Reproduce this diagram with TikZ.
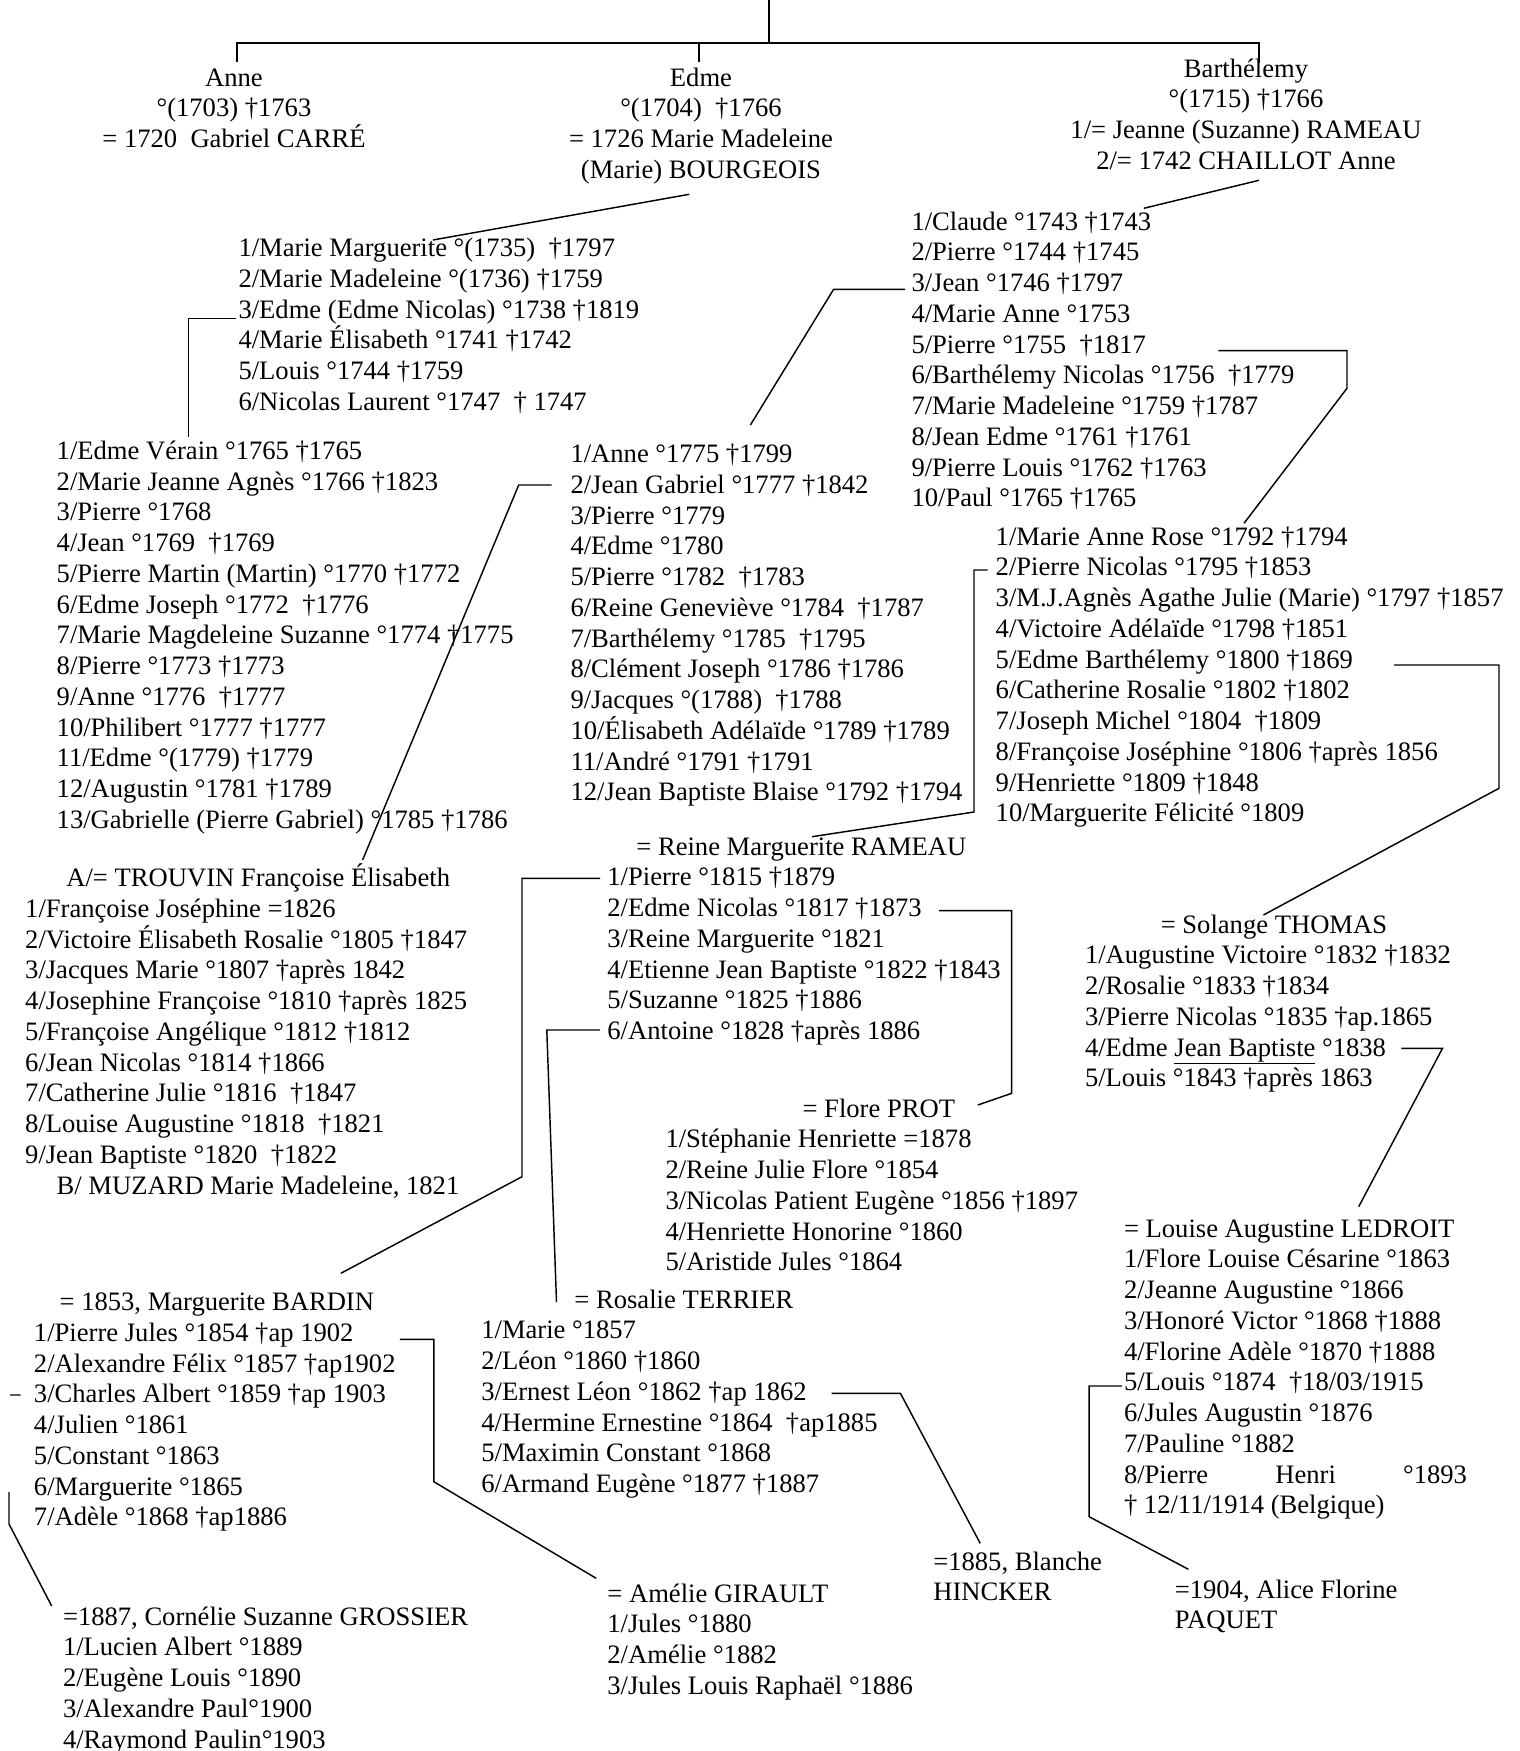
\documentclass[tikz,border=0pt]{standalone}
\usepackage{fontspec}
\setmainfont{Liberation Serif}
\newcommand\LftBlk[1]{\vtop{\halign{##\hfil\cr#1\crcr}}}
\newcommand\CtrBlk[1]{\vtop{\halign{\hfil##\hfil\cr#1\crcr}}}
\tikzset{
  txt/.style={inner sep=0pt, outer sep=0pt, font=\fontsize{26.6}{30.75}\selectfont, anchor=base west},
  ctxt/.style={txt, anchor=base},
  link/.style={line width=1.45pt, line join=miter},
  trunk/.style={line width=2pt}
}
\begin{document}
\begin{tikzpicture}[x=1pt,y=-1pt]
\useasboundingbox (0,0) rectangle (1519,1751);
\fill[white] (0,0) rectangle (1519,1751);

% ---------- text blocks ----------
\node[ctxt] (anne) at (234,86) {\CtrBlk{Anne\cr °(1703) †1763\cr = 1720~~Gabriel CARRÉ}};
\node[ctxt] (edme) at (701,86) {\CtrBlk{Edme\cr °(1704)~~†1766\cr = 1726 Marie Madeleine\cr (Marie) BOURGEOIS}};
\node[ctxt] (barth) at (1246,77) {\CtrBlk{Barthélemy\cr °(1715) †1766\cr 1/= Jeanne (Suzanne) RAMEAU\cr 2/= 1742 CHAILLOT Anne}};

\node[txt] (ek) at (238.5,256.7) {\LftBlk{1/Marie Marguerite °(1735)~~†1797\cr
2/Marie Madeleine °(1736) †1759\cr
3/Edme (Edme Nicolas) °1738 †1819\cr
4/Marie Élisabeth °1741 †1742\cr
5/Louis °1744 †1759\cr
6/Nicolas Laurent °1747~~† 1747}};

\node[txt] (bk) at (911.5,230) {\LftBlk{1/Claude °1743 †1743\cr
2/Pierre °1744 †1745\cr
3/Jean °1746 †1797\cr
4/Marie Anne °1753\cr
5/Pierre °1755~~†1817\cr
6/Barthélemy Nicolas °1756~~†1779\cr
7/Marie Madeleine °1759 †1787\cr
8/Jean Edme °1761 †1761\cr
9/Pierre Louis °1762 †1763\cr
10/Paul °1765 †1765}};

\node[txt] (enk) at (56.7,459.3) {\LftBlk{1/Edme Vérain °1765 †1765\cr
2/Marie Jeanne Agnès °1766 †1823\cr
3/Pierre °1768\cr
4/Jean °1769~~†1769\cr
5/Pierre Martin (Martin) °1770 †1772\cr
6/Edme Joseph °1772~~†1776\cr
7/Marie Magdeleine Suzanne °1774 †1775\cr
8/Pierre °1773 †1773\cr
9/Anne °1776~~†1777\cr
10/Philibert °1777 †1777\cr
11/Edme °(1779) †1779\cr
12/Augustin °1781 †1789\cr
13/Gabrielle (Pierre Gabriel) °1785 †1786}};

\node[txt] (jk) at (570.5,462.5) {\LftBlk{1/Anne °1775 †1799\cr
2/Jean Gabriel °1777 †1842\cr
3/Pierre °1779\cr
4/Edme °1780\cr
5/Pierre °1782~~†1783\cr
6/Reine Geneviève °1784~~†1787\cr
7/Barthélemy °1785~~†1795\cr
8/Clément Joseph °1786 †1786\cr
9/Jacques °(1788)~~†1788\cr
10/Élisabeth Adélaïde °1789 †1789\cr
11/André °1791 †1791\cr
12/Jean Baptiste Blaise °1792 †1794}};

\node[txt] (pk) at (995.7,545) {\LftBlk{1/Marie Anne Rose °1792 †1794\cr
2/Pierre Nicolas °1795 †1853\cr
3/M.J.Agnès Agathe Julie (Marie) °1797 †1857\cr
4/Victoire Adélaïde °1798 †1851\cr
5/Edme Barthélemy °1800 †1869\cr
6/Catherine Rosalie °1802 †1802\cr
7/Joseph Michel °1804~~†1809\cr
8/Françoise Joséphine °1806 †après 1856\cr
9/Henriette °1809 †1848\cr
10/Marguerite Félicité °1809}};

\node[txt] (tr) at (25.2,886.7) {\LftBlk{\hskip41.2pt A/= TROUVIN Françoise Élisabeth\cr
1/Françoise Joséphine =1826\cr
2/Victoire Élisabeth Rosalie °1805 †1847\cr
3/Jacques Marie °1807 †après 1842\cr
4/Josephine Françoise °1810 †après 1825\cr
5/Françoise Angélique °1812 †1812\cr
6/Jean Nicolas °1814 †1866\cr
7/Catherine Julie °1816~~†1847\cr
8/Louise Augustine °1818~~†1821\cr
9/Jean Baptiste °1820~~†1822\cr
\hskip31.5pt B/ MUZARD Marie Madeleine, 1821}};

\node[txt] (rm) at (607.4,855) {\LftBlk{\hskip29pt = Reine Marguerite RAMEAU\cr
1/Pierre °1815 †1879\cr
2/Edme Nicolas °1817 †1873\cr
3/Reine Marguerite °1821\cr
4/Etienne Jean Baptiste °1822 †1843\cr
5/Suzanne °1825 †1886\cr
6/Antoine °1828 †après 1886}};

\node[txt] (fp) at (665.5,1117) {\LftBlk{\hskip137.1pt = Flore PROT\cr
1/Stéphanie Henriette =1878\cr
2/Reine Julie Flore °1854\cr
3/Nicolas Patient Eugène °1856 †1897\cr
4/Henriette Honorine °1860\cr
5/Aristide Jules °1864}};

\node[txt] (st) at (1085,933) {\LftBlk{\hskip75.8pt = Solange THOMAS\cr
1/Augustine Victoire °1832 †1832\cr
2/Rosalie °1833 †1834\cr
3/Pierre Nicolas °1835 †ap.1865\cr
4/Edme \underline{Jean Baptiste} °1838\cr
5/Louis °1843 †après 1863}};

\node[txt] (ld) at (1124,1237) {\LftBlk{= Louise Augustine LEDROIT\cr
1/Flore Louise Césarine °1863\cr
2/Jeanne Augustine °1866\cr
3/Honoré Victor °1868 †1888\cr
4/Florine Adèle °1870 †1888\cr
5/Louis °1874~~†18/03/1915\cr
6/Jules Augustin °1876\cr
7/Pauline °1882\cr
\hbox to 343pt{8/Pierre\hfil Henri\hfil °1893}\cr
† 12/11/1914 (Belgique)}};

\node[txt] (rt) at (481.3,1308) {\LftBlk{\hskip93.1pt = Rosalie TERRIER\cr
1/Marie °1857\cr
2/Léon °1860 †1860\cr
3/Ernest Léon °1862 †ap 1862\cr
4/Hermine Ernestine °1864~~†ap1885\cr
5/Maximin Constant °1868\cr
6/Armand Eugène °1877 †1887}};

\node[txt] (bd) at (34,1310.5) {\LftBlk{\hskip25.6pt = 1853, Marguerite BARDIN\cr
1/Pierre Jules °1854 †ap 1902\cr
2/Alexandre Félix °1857 †ap1902\cr
3/Charles Albert °1859 †ap 1903\cr
4/Julien °1861\cr
5/Constant °1863\cr
6/Marguerite °1865\cr
7/Adèle °1868 †ap1886}};

\node[txt] (ga) at (607.4,1602) {\LftBlk{= Amélie GIRAULT\cr
1/Jules °1880\cr
2/Amélie °1882\cr
3/Jules Louis Raphaël °1886}};

\node[txt] (gr) at (63,1625) {\LftBlk{=1887, Cornélie Suzanne GROSSIER\cr
1/Lucien Albert °1889\cr
2/Eugène Louis °1890\cr
3/Alexandre Paul°1900\cr
4/Raymond Paulin°1903}};

\node[txt] (hk) at (933.3,1570) {\LftBlk{=1885, Blanche\cr HINCKER}};
\node[txt] (pq) at (1174.8,1598) {\LftBlk{=1904, Alice Florine\cr PAQUET}};

% ---------- connector points ----------
\coordinate (root) at (768.7,0);
\coordinate (rootj) at (768.7,43.3);
\coordinate (brL) at (236.5,43.3);
\coordinate (brR) at (1259,43.3);
\coordinate (brE) at (698.5,43.3);
\coordinate (anneT) at (236.5,62);
\coordinate (edmeT) at (698.5,62);
\coordinate (barthT) at (1259,63);

\coordinate (edmeB) at (689.3,194.3);   \coordinate (ekT) at (432.9,240);
\coordinate (barthB) at (1259,180.3);   \coordinate (bkT) at (1143.8,208.3);
\coordinate (ek3) at (236,318.3);       \coordinate (ek3c) at (188.6,318.3); \coordinate (enkT) at (188.6,437);
\coordinate (bk3) at (905,289.3);       \coordinate (bk3c) at (833.6,289.3); \coordinate (jkT) at (750.4,425);
\coordinate (bk5) at (1218.4,350.7);    \coordinate (bk5c) at (1347,350.7); \coordinate (bk5d) at (1347,388.3); \coordinate (pkT) at (1244,523.3);
\coordinate (jk2) at (551.6,485);       \coordinate (jk2c) at (518.7,485); \coordinate (trT) at (362.6,860);
\coordinate (pk2) at (987.5,570);       \coordinate (pk2c) at (974,570); \coordinate (pk2d) at (974,812); \coordinate (rmT) at (812,836.7);
\coordinate (pk5) at (1394,665);        \coordinate (pk5c) at (1499,665); \coordinate (pk5d) at (1499,788.3); \coordinate (stT) at (1263.4,915);
\coordinate (rm1) at (600,878.3);       \coordinate (rm1c) at (522,878.3); \coordinate (rm1d) at (522,1176.7); \coordinate (bdT) at (340.8,1273.3);
\coordinate (rm6) at (600,1030);        \coordinate (rm6c) at (546.8,1030); \coordinate (rtT) at (556.5,1302);
\coordinate (rm2) at (939,910.7);       \coordinate (rm2c) at (1011.7,910.7); \coordinate (rm2d) at (1011.7,1093.3); \coordinate (fpT) at (977.8,1105);
\coordinate (st4) at (1401.3,1048.3);   \coordinate (st4c) at (1442.5,1048.3); \coordinate (ldT) at (1358.7,1206.7);
\coordinate (ld5) at (1122,1386);       \coordinate (ld5c) at (1089.1,1386); \coordinate (ld5d) at (1089.1,1516.7); \coordinate (pqT) at (1188.4,1569.3);
\coordinate (rt3) at (831.6,1393.3);    \coordinate (rt3c) at (900.4,1393.3); \coordinate (hkT) at (980.2,1543.3);
\coordinate (bd1) at (399.9,1339.3);    \coordinate (bd1c) at (433.8,1339.3); \coordinate (bd1d) at (433.8,1481.7); \coordinate (gaT) at (596.2,1578.3);
\coordinate (bd3) at (20.5,1395);       \coordinate (bd3c) at (10,1395);
\coordinate (grA) at (9,1492);          \coordinate (grB) at (9,1524); \coordinate (grT) at (51.7,1606);

% ---------- connectors ----------
\draw[trunk] (root) -- (rootj);
\draw[trunk] (anneT) -- (brL) -- (brR) -- (barthT);
\draw[trunk] (brE) -- (edmeT);

\draw[link] (edmeB) -- (ekT);
\draw[link] (barthB) -- (bkT);
\draw[link] (ek3) -- (ek3c) -- (enkT);
\draw[link] (bk3) -- (bk3c) -- (jkT);
\draw[link] (bk5) -- (bk5c) -- (bk5d) -- (pkT);
\draw[link] (jk2) -- (jk2c) -- (trT);
\draw[link] (pk2) -- (pk2c) -- (pk2d) -- (rmT);
\draw[link] (pk5) -- (pk5c) -- (pk5d) -- (stT);
\draw[link] (rm1) -- (rm1c) -- (rm1d) -- (bdT);
\draw[link] (rm6) -- (rm6c) -- (rtT);
\draw[link] (rm2) -- (rm2c) -- (rm2d) -- (fpT);
\draw[link] (st4) -- (st4c) -- (ldT);
\draw[link] (ld5) -- (ld5c) -- (ld5d) -- (pqT);
\draw[link] (rt3) -- (rt3c) -- (hkT);
\draw[link] (bd1) -- (bd1c) -- (bd1d) -- (gaT);
\draw[link] (bd3) -- (bd3c) (grA) -- (grB) -- (grT);
\end{tikzpicture}
\end{document}
